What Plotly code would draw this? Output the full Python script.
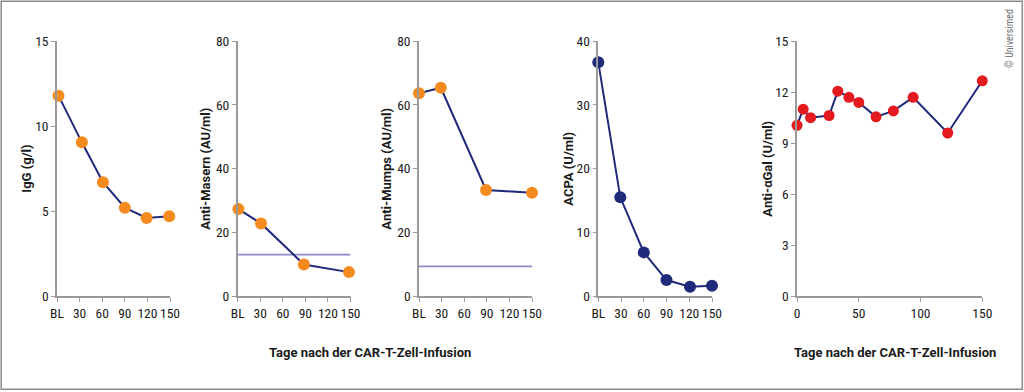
import plotly.graph_objects as go

W, H = 1024, 392

# ---------------- data ----------------
bl_ticks = [0, 30, 60, 90, 120, 150]
bl_text = ["BL", "30", "60", "90", "120", "150"]

igg_days = [2, 33, 61, 90, 119, 149]
igg_vals = [11.8, 9.05, 6.7, 5.2, 4.6, 4.7]

masern_days = [1, 31, 88, 148]
masern_vals = [27.3, 22.8, 9.9, 7.5]
masern_cutoff = 13.0

mumps_days = [0, 29, 89, 150]
mumps_vals = [63.7, 65.4, 33.3, 32.4]
mumps_cutoff = 9.3

acpa_days = [0, 29, 60, 90, 121, 150]
acpa_vals = [36.7, 15.5, 6.85, 2.5, 1.45, 1.6]

agal_days = [0, 5, 11, 26, 33, 42, 50, 64, 78, 94, 122, 150]
agal_vals = [10.05, 11.0, 10.5, 10.63, 12.06, 11.7, 11.4, 10.55, 10.9, 11.7, 9.6, 12.67]

x_title = "Tage nach der CAR-T-Zell-Infusion"

# ---------------- styles ----------------
NAVY = "#1f2a7a"
ORANGE = "#f58a1f"
RED = "#e31b1f"
CUT = "#8c8acb"
AXC = "#9a9a9a"
TICKFONT = "Liberation Sans Narrow, Roboto Condensed, DejaVu Sans Condensed, sans-serif"
TITLEFONT = "Roboto, Lato, sans-serif"
TXT = "#1a1a1a"

def px_x(p):
    return p / W

def px_y(p):
    return 1 - p / H

Y_TOP, Y_BOT = 41.3, 296.0

panels = [
    # (x_left_px, x_right_px, yrange, ytickvals, title, title_x_px)
    (57.0, 170.0, [0, 15], [0, 5, 10, 15], "IgG (g/l)", 27),
    (237.7, 350.5, [0, 80], [0, 20, 40, 60, 80], "Anti-Masern (AU/ml)", 206),
    (419.0, 532.0, [0, 80], [0, 20, 40, 60, 80], "Anti-Mumps (AU/ml)", 387),
    (598.3, 712.0, [0, 40], [0, 10, 20, 30, 40], "ACPA (U/ml)", 569),
    (797.0, 982.3, [0, 15], [0, 3, 6, 9, 12, 15], "Anti-\u03b1Gal (U/ml)", 768),
]

fig = go.Figure()

series = [
    (igg_days, igg_vals, ORANGE, None),
    (masern_days, masern_vals, ORANGE, masern_cutoff),
    (mumps_days, mumps_vals, ORANGE, mumps_cutoff),
    (acpa_days, acpa_vals, NAVY, None),
    (agal_days, agal_vals, RED, None),
]

annotations = []
for i, ((xl, xr, yr, ytv, ttl, tx), (xs, ys, mc, cut)) in enumerate(zip(panels, series)):
    n = "" if i == 0 else str(i + 1)
    xa, ya = "x" + n, "y" + n
    if cut is not None:
        fig.add_trace(go.Scatter(x=[bl_ticks[0], bl_ticks[-1]], y=[cut, cut], mode="lines",
                                 line=dict(color=CUT, width=1.6), xaxis=xa, yaxis=ya,
                                 showlegend=False, hoverinfo="skip", cliponaxis=False))
    fig.add_trace(go.Scatter(x=xs, y=ys, mode="lines+markers",
                             line=dict(color=NAVY, width=2),
                             marker=dict(color=mc, size=12 if i < 4 else 11, line=dict(width=0)),
                             xaxis=xa, yaxis=ya, showlegend=False, cliponaxis=False))
    xaxis = dict(domain=[px_x(xl), px_x(xr)], range=[0, 150], anchor=ya, automargin=False,
                 showline=True, linecolor=AXC, linewidth=1.5, ticks="outside",
                 ticklen=4, tickwidth=1.2, tickcolor=AXC, showgrid=False, zeroline=False,
                 tickangle=0, tickfont=dict(family=TICKFONT, size=13.5, color=TXT),
                 fixedrange=True)
    if i < 4:
        xaxis.update(tickvals=bl_ticks, ticktext=bl_text)
    else:
        xaxis.update(tickvals=[0, 50, 100, 150])
    yaxis = dict(domain=[px_y(Y_BOT), px_y(Y_TOP)], range=yr, anchor=xa, automargin=False,
                 showline=True, linecolor=AXC, linewidth=1.5, ticks="outside",
                 ticklen=4, tickwidth=1.2, tickcolor=AXC, showgrid=False, zeroline=False,
                 tickvals=ytv, tickfont=dict(family=TICKFONT, size=13.5, color=TXT),
                 fixedrange=True)
    fig.update_layout(**{"xaxis" + n: xaxis, "yaxis" + n: yaxis})
    annotations.append(dict(text="<b>" + ttl + "</b>", textangle=-90, xref="paper", yref="paper",
                            x=px_x(tx), y=px_y((Y_TOP + Y_BOT) / 2), showarrow=False,
                            xanchor="center", yanchor="middle",
                            font=dict(family=TITLEFONT, size=13, color=TXT)))

for cx in (370, 895):
    annotations.append(dict(text="<b>" + x_title + "</b>", xref="paper", yref="paper",
                            x=px_x(cx), y=px_y(352), showarrow=False, xanchor="center",
                            yanchor="middle", font=dict(family=TITLEFONT, size=13, color=TXT)))

annotations.append(dict(text="\u00a9 Universimed", textangle=-90, xref="paper", yref="paper",
                        x=px_x(1009), y=px_y(39), showarrow=False, xanchor="center",
                        yanchor="middle", font=dict(family=TICKFONT, size=10, color="#6e6e6e")))

fig.update_layout(
    template="none",
    width=W, height=H, margin=dict(l=0, r=0, t=0, b=0, pad=0, autoexpand=False),
    paper_bgcolor="white", plot_bgcolor="white",
    annotations=annotations,
    shapes=[dict(type="rect", xref="paper", yref="paper",
                 x0=px_x(1.2), x1=px_x(1022.3), y0=px_y(389.2), y1=px_y(1.2),
                 line=dict(color="#8a8a8a", width=1.5))],
)

fig.write_html("out.html", config={"displayModeBar": False},
               post_script="document.body.style.margin='0';document.body.style.overflow='hidden';")
